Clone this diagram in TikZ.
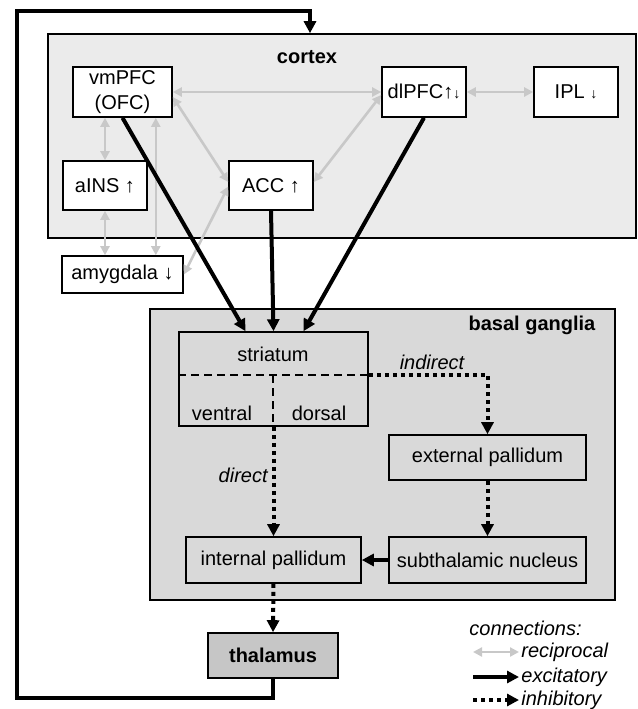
\documentclass[tikz,border=0pt]{standalone}
\usepackage{fontspec}
\setmainfont{Liberation Sans}
\usepackage{tikz}
\usetikzlibrary{arrows.meta}
\definecolor{recgray}{RGB}{200,200,200}
\definecolor{ctxgray}{RGB}{235,235,235}
\definecolor{bggray}{RGB}{217,217,217}
\definecolor{thalgray}{RGB}{198,198,198}

\begin{document}
\begin{tikzpicture}[x=0.5pt, y=-0.5pt,
    box/.style={draw, line width=0.8pt, fill=white, inner sep=0pt, align=center},
    region/.style={draw, line width=0.8pt, inner sep=0pt},
    lbl/.style={font=\itshape, inner sep=1pt},
    divide/.style={line width=0.9pt, dash pattern=on 4pt off 2.5pt},
    rec/.style={draw=recgray, line width=1.3pt, {Triangle[length=4.5pt,width=4.5pt]}-{Triangle[length=4.5pt,width=4.5pt]}},
    exc/.style={line width=2pt, -{Triangle[length=6pt,width=6pt]}},
    inh/.style={line width=2pt, dash pattern=on 2pt off 2pt, -{Triangle[length=6pt,width=6pt]}}]
    \useasboundingbox (0,0) rectangle (638,709);
    \node [region, fill=ctxgray, minimum width=294pt, minimum height=102pt] (ctx) at (342,136) {};
    \node [font=\bfseries] at (307,57) {cortex};
    \node [region, fill=bggray, minimum width=232.5pt, minimum height=145.5pt] (bg) at (382.5,454.5) {};
    \node [font=\bfseries] at (532,325) {basal ganglia};

    \node [box, minimum width=49.5pt, minimum height=25pt] (vm) at (122.5,92) {vmPFC\\[0.5pt](OFC)};
    \node [box, minimum width=42pt, minimum height=24.5pt] (ains) at (105,185.5) {aINS ↑};
    \node [box, minimum width=42pt, minimum height=24.5pt] (acc) at (271,185.5) {ACC ↑};
    \node [box, minimum width=60.5pt, minimum height=18.5pt] (amy) at (122.5,274.5) {amygdala ↓};
    \node [box, minimum width=42pt, minimum height=25pt] (dl) at (424,92) {dlPFC↑{\scriptsize↓}};
    \node [box, minimum width=42pt, minimum height=25pt] (ipl) at (576,92) {IPL {\scriptsize↓}};

    \node [box, fill=none, minimum width=94.5pt, minimum height=47pt] (str) at (273.5,379) {};
    \node at (273,354) {striatum};
    \node at (222,413) {ventral};
    \node at (319,413) {dorsal};
    \node [box, fill=none, minimum width=98.5pt, minimum height=22.5pt] (ext) at (487.5,457.5) {external pallidum};
    \node [box, fill=none, minimum width=98.5pt, minimum height=23pt] (stn) at (487.5,560) {subthalamic nucleus};
    \node [box, fill=none, minimum width=87.5pt, minimum height=23pt] (int) at (273.5,560) {internal pallidum};
    \node [box, fill=thalgray, font=\bfseries, minimum width=65pt, minimum height=22.5pt] (thal) at (273,655.5) {thalamus};

    \draw [rec] (vm.east) -- (dl.west);
    \draw [rec] (dl.east) -- (ipl.west);
    \draw [rec] ([yshift=-2.5pt]vm.east) -- ([yshift=1.75pt]acc.west);
    \draw [rec] ([yshift=-1.5pt]dl.west) -- ([yshift=1.75pt]acc.east);
    \draw [rec] (amy.east) -- ([yshift=-0.5pt]acc.west);
    \draw [rec] (ains.north) -- (ains.north |- vm.south);
    \draw [rec] (ains.south) -- (ains.south |- amy.north);
    \coordinate (amytop) at ([xshift=-14pt]amy.north east);
    \draw [rec] (amytop) -- (amytop |- vm.south);

    \draw [exc] (vm.south) -- ([xshift=-14pt]str.north);
    \draw [exc] (acc.south) -- (str.north);
    \draw [exc] (dl.south) -- ([xshift=15pt]str.north);

    \draw [divide] ([yshift=2pt]str.west) -- ([yshift=2pt]str.east);
    \draw [divide] ([xshift=-0.25pt,yshift=2pt]str.center) -- ([xshift=-0.25pt]str.south);
    \draw [inh] ([yshift=2pt]str.east) -| (ext.north);
    \node [lbl] at (432,362) {indirect};
    \draw [inh] (str.south) -- (int.north);
    \node [lbl, anchor=east] at (270,475) {direct};
    \draw [inh] (ext.south) -- (stn.north);
    \draw [exc] (stn.west) -- (int.east);
    \draw [inh] (int.south) -- (thal.north);

    \coordinate (loopbl) at (17,698);
    \coordinate (looptl) at (17,11);
    \draw [exc] (thal.south) |- (loopbl) -- (looptl) -| ([xshift=-16pt]ctx.north);

    \node [lbl, anchor=west] at (467,628) {connections:};
    \node [lbl, anchor=west] (lrec) at (519,652) {reciprocal};
    \node [lbl, anchor=west] (lexc) at (519,677) {excitatory};
    \node [lbl, anchor=west] (linh) at (519,700) {inhibitory};
    \draw [rec] ([xshift=-23pt]lrec.west) -- (lrec.west);
    \draw [exc] ([xshift=-23pt]lexc.west) -- (lexc.west);
    \draw [inh] ([xshift=-23pt]linh.west) -- (linh.west);
\end{tikzpicture}
\end{document}
